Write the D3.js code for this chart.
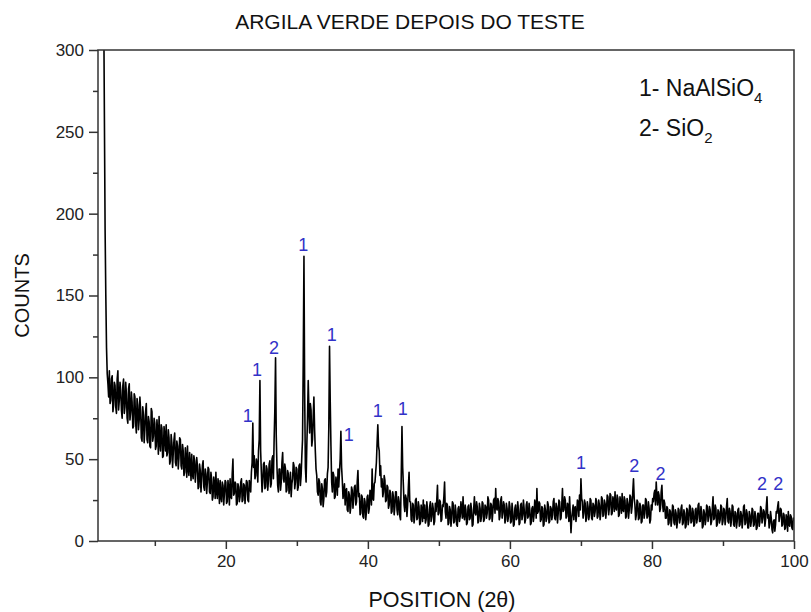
<!DOCTYPE html>
<html>
<head>
<meta charset="utf-8">
<script src="https://cdn.jsdelivr.net/npm/d3@7"></script>
<style>
    body { margin: 0; background: #fff; }
    text { font-family: "Liberation Sans", Arial, Helvetica, sans-serif; }
</style>
</head>
<body>
<svg></svg>
<script>
const width = 811;
const height = 612;
const margin = { top: 50, right: 17, bottom: 71, left: 98 };

// scan readings, 0.1 degree apart; first row starts at 2.6, each later row covers 2 degrees
const scanStep = 0.1;
const firstRowStart = 2.6;
const scanRows = [
    [420, 380, 330, 260, 190, 150, 118, 102, 96, 88, 104, 84, 86, 99],
    [101, 79, 83, 97, 95, 82, 78, 99, 104, 80, 86, 97, 92, 80, 75, 95, 99, 78, 82, 97],   // 4
    [90, 75, 72, 93, 96, 74, 79, 91, 85, 69, 70, 90, 88, 72, 66, 87, 83, 68, 74, 88],     // 6
    [80, 63, 61, 82, 77, 60, 68, 79, 84, 62, 60, 76, 73, 58, 57, 81, 79, 61, 64, 75],     // 8
    [72, 56, 58, 74, 67, 53, 76, 60, 55, 71, 69, 51, 52, 70, 64, 55, 71, 52, 54, 68],     // 10
    [63, 47, 49, 65, 60, 45, 54, 62, 66, 48, 46, 61, 58, 44, 51, 63, 62, 46, 44, 59],     // 12
    [55, 40, 42, 57, 50, 39, 58, 44, 40, 54, 47, 37, 53, 41, 38, 52, 49, 36, 43, 51],     // 14
    [46, 32, 33, 47, 43, 30, 38, 46, 49, 33, 31, 44, 41, 29, 36, 45, 44, 30, 29, 42],     // 16
    [38, 25, 27, 39, 35, 26, 42, 30, 26, 38, 33, 23, 37, 27, 24, 36, 34, 22, 29, 37],     // 18
    [36, 23, 24, 37, 32, 22, 38, 27, 26, 41, 50, 28, 29, 36, 35, 22, 23, 35, 33, 24],     // 20
    [27, 36, 38, 24, 25, 35, 34, 23, 30, 37, 36, 25, 24, 37, 33, 30, 42, 48, 72, 45],     // 22
    [52, 38, 40, 50, 47, 36, 55, 62, 98, 55, 42, 30, 36, 47, 48, 32, 33, 46, 44, 31],     // 24
    [37, 47, 49, 33, 35, 50, 52, 38, 62, 80, 112, 64, 45, 34, 30, 44, 44, 31, 36, 48],    // 26
    [54, 38, 36, 47, 44, 30, 31, 43, 41, 29, 34, 42, 27, 35, 38, 48, 46, 32, 36, 45],     // 28
    [44, 31, 33, 46, 47, 34, 40, 52, 62, 110, 174, 90, 45, 36, 58, 75, 98, 80, 66, 84],   // 30
    [80, 58, 62, 76, 88, 68, 55, 44, 40, 30, 28, 38, 36, 24, 22, 35, 32, 21, 26, 37],     // 32
    [38, 27, 30, 41, 45, 70, 119, 85, 58, 36, 30, 42, 40, 26, 27, 39, 36, 28, 44, 33],    // 34
    [42, 50, 67, 45, 37, 26, 30, 35, 22, 31, 32, 19, 18, 30, 28, 17, 21, 33, 31, 20],     // 36
    [26, 33, 34, 22, 24, 36, 43, 27, 29, 16, 17, 28, 27, 15, 14, 26, 24, 13, 18, 27],     // 38
    [28, 17, 20, 31, 30, 22, 44, 26, 25, 35, 36, 42, 48, 60, 71, 58, 55, 40, 46, 33],     // 40
    [38, 27, 30, 40, 37, 24, 25, 34, 33, 20, 22, 31, 29, 17, 18, 30, 27, 16, 21, 30],     // 42
    [30, 19, 16, 27, 24, 15, 13, 40, 70, 45, 34, 22, 18, 28, 26, 15, 22, 33, 42, 24],     // 44
    [24, 13, 12, 23, 22, 11, 15, 25, 26, 13, 14, 24, 21, 10, 11, 22, 19, 12, 25, 14],     // 46
    [22, 11, 13, 24, 19, 9, 10, 21, 24, 12, 15, 23, 20, 10, 12, 23, 18, 25, 34, 16],      // 48
    [17, 25, 24, 12, 13, 22, 21, 27, 36, 18, 14, 23, 22, 10, 11, 21, 19, 9, 14, 24],      // 50
    [23, 11, 12, 22, 18, 10, 9, 20, 21, 12, 15, 24, 20, 14, 27, 16, 13, 22, 19, 10],      // 52
    [11, 21, 22, 13, 14, 23, 19, 9, 10, 20, 27, 17, 16, 24, 21, 11, 12, 23, 20, 12],      // 54
    [15, 24, 23, 12, 13, 22, 21, 14, 17, 27, 25, 13, 14, 23, 22, 12, 18, 25, 26, 17],     // 56
    [32, 20, 19, 26, 24, 13, 15, 25, 27, 14, 17, 24, 22, 11, 13, 23, 20, 12, 15, 24],     // 58
    [21, 11, 12, 23, 18, 9, 10, 20, 22, 13, 14, 24, 19, 10, 11, 22, 23, 13, 16, 25],      // 60
    [20, 11, 13, 22, 24, 14, 15, 23, 19, 10, 11, 20, 21, 12, 16, 25, 22, 14, 32, 17],     // 62
    [18, 24, 23, 12, 13, 21, 20, 9, 10, 22, 19, 12, 14, 24, 22, 11, 12, 21, 20, 13],      // 64
    [16, 24, 26, 14, 13, 23, 21, 11, 17, 25, 24, 13, 14, 22, 32, 18, 19, 27, 25, 14],     // 66
    [15, 23, 22, 12, 27, 16, 5, 14, 18, 22, 13, 20, 21, 12, 16, 25, 24, 15, 28, 19],      // 68
    [38, 26, 24, 14, 17, 25, 23, 12, 14, 24, 21, 13, 16, 26, 25, 14, 13, 23, 22, 15],     // 70
    [18, 26, 24, 14, 15, 25, 22, 13, 17, 27, 26, 15, 16, 25, 23, 14, 19, 28, 27, 16],     // 72
    [20, 29, 28, 16, 17, 27, 25, 18, 30, 20, 19, 28, 26, 15, 16, 27, 24, 17, 29, 19],     // 74
    [18, 27, 25, 14, 15, 26, 23, 14, 19, 28, 27, 17, 21, 30, 38, 26, 22, 13, 16, 25],     // 76
    [24, 13, 14, 23, 21, 11, 12, 22, 22, 14, 17, 26, 25, 14, 15, 24, 20, 11, 13, 22],     // 78
    [19, 26, 24, 29, 31, 22, 36, 27, 22, 30, 28, 18, 20, 30, 34, 22, 18, 25, 23, 14],     // 80
    [14, 21, 20, 10, 11, 19, 18, 9, 13, 22, 21, 11, 10, 19, 17, 8, 12, 20, 19, 11],       // 82
    [14, 20, 22, 10, 11, 19, 17, 8, 9, 20, 19, 10, 13, 22, 21, 11, 12, 20, 18, 9],        // 84
    [10, 19, 20, 11, 14, 22, 23, 12, 12, 21, 18, 8, 9, 19, 17, 10, 13, 22, 21, 12],       // 86
    [15, 21, 19, 10, 12, 20, 27, 13, 14, 22, 20, 9, 10, 19, 18, 11, 13, 22, 21, 10],      // 88
    [12, 20, 19, 10, 14, 21, 26, 12, 11, 20, 18, 9, 13, 22, 21, 10, 9, 18, 17, 8],        // 90
    [12, 19, 20, 9, 10, 18, 16, 8, 13, 21, 22, 10, 11, 19, 17, 8, 8, 18, 16, 9],          // 92
    [12, 20, 19, 9, 10, 18, 15, 7, 8, 17, 17, 9, 12, 21, 20, 11, 14, 19, 18, 9],          // 94
    [13, 21, 27, 14, 16, 8, 11, 18, 14, 7, 5, 12, 13, 6, 10, 18, 17, 21, 24, 12],         // 96
    [15, 20, 19, 9, 10, 17, 16, 7, 8, 16, 14, 6, 18, 10, 9, 16, 15, 8, 7, 14],            // 98
    [12]                                                                                    // 100
];

// phase labels over the peaks: 1 = NaAlSiO4, 2 = SiO2
const peakPhase = ["1", "1", "2", "1", "1", "1", "1", "1", "1", "2", "2", "2", "2"];
const peakLabelX = [23.1, 24.4, 26.8, 30.9, 34.9, 37.3, 41.4, 44.9, 70.0, 77.5, 81.2, 95.5, 97.8];
const peakLabelY = [73, 101, 114, 177, 122, 61, 76, 77, 44, 42, 37, 31, 31];

const legendPhase = ["1- ", "2- "];
const legendFormula = ["NaAlSiO", "SiO"];
const legendSub = ["4", "2"];

const xTicks = [20, 40, 60, 80, 100];
const xMinor = [10, 30, 50, 70, 90];
const yTicks = [0, 50, 100, 150, 200, 250, 300];
const yMinor = [25, 75, 125, 175, 225, 275];

const x = d3.scaleLinear().domain([2, 100]).range([margin.left, width - margin.right]);
const y = d3.scaleLinear().domain([0, 300]).range([height - margin.bottom, margin.top]);

const svg = d3.select("svg")
    .attr("width", width)
    .attr("height", height);

svg.append("defs").append("clipPath")
    .attr("id", "plot-clip")
    .append("rect")
    .attr("x", x(2))
    .attr("y", y(300))
    .attr("width", x(100) - x(2))
    .attr("height", y(0) - y(300));

const scan = [];
scanRows.forEach((row, r) => {
    const start = r === 0 ? firstRowStart : 2 + 2 * r;
    row.forEach((c, j) => scan.push([start + j * scanStep, c]));
});

const line = d3.line()
    .x(d => x(d[0]))
    .y(d => y(d[1]));

svg.append("path")
    .datum(scan)
    .attr("clip-path", "url(#plot-clip)")
    .attr("fill", "none")
    .attr("stroke", "#000")
    .attr("stroke-width", 1.6)
    .attr("stroke-linejoin", "round")
    .attr("d", line);

// frame
svg.append("rect")
    .attr("x", x(2))
    .attr("y", y(300))
    .attr("width", x(100) - x(2))
    .attr("height", y(0) - y(300))
    .attr("fill", "none")
    .attr("stroke", "#333")
    .attr("stroke-width", 1.5);

// axes
svg.append("g")
    .attr("transform", "translate(0," + y(0) + ")")
    .call(d3.axisBottom(x).tickValues(xTicks).tickSize(8).tickPadding(6));
svg.append("g")
    .attr("transform", "translate(0," + y(0) + ")")
    .call(d3.axisBottom(x).tickValues(xMinor).tickSize(5).tickFormat(""));

svg.append("g")
    .attr("transform", "translate(" + x(2) + ",0)")
    .call(d3.axisLeft(y).tickValues(yTicks).tickSize(9).tickPadding(5));
svg.append("g")
    .attr("transform", "translate(" + x(2) + ",0)")
    .call(d3.axisLeft(y).tickValues(yMinor).tickSize(5).tickFormat(""));

svg.selectAll(".domain").remove();
svg.selectAll(".tick line").attr("stroke", "#333").attr("stroke-width", 1.5);
svg.selectAll(".tick text")
    .attr("font-size", 17)
    .attr("fill", "#222")
    .style("font-family", "'Liberation Sans', Arial, sans-serif");

// titles
svg.append("text")
    .attr("x", 410)
    .attr("y", 29)
    .attr("text-anchor", "middle")
    .attr("font-size", 21)
    .attr("fill", "#111")
    .text("ARGILA VERDE DEPOIS DO TESTE");

svg.append("text")
    .attr("transform", "translate(29," + (y(150)) + ") rotate(-90)")
    .attr("text-anchor", "middle")
    .attr("font-size", 20)
    .attr("fill", "#111")
    .text("COUNTS");

svg.append("text")
    .attr("x", 442)
    .attr("y", 607)
    .attr("text-anchor", "middle")
    .attr("font-size", 21.5)
    .attr("fill", "#111")
    .text("POSITION (2θ)");

// peak labels
svg.selectAll(".peak-label").data(peakPhase).enter()
    .append("text")
    .attr("class", "peak-label")
    .attr("x", (d, i) => x(peakLabelX[i]))
    .attr("y", (d, i) => y(peakLabelY[i]))
    .attr("text-anchor", "middle")
    .attr("font-size", 18)
    .attr("fill", "#3232c8")
    .text(d => d);

// legend
const legend = svg.selectAll(".legend").data(legendPhase).enter()
    .append("text")
    .attr("class", "legend")
    .attr("x", 639)
    .attr("y", (d, i) => 96 + i * 40)
    .attr("font-size", 23)
    .attr("fill", "#111");
legend.append("tspan").text(d => d);
legend.append("tspan").text((d, i) => legendFormula[i]);
legend.append("tspan")
    .attr("dy", 7)
    .attr("font-size", 15)
    .text((d, i) => legendSub[i]);
</script>
</body>
</html>
